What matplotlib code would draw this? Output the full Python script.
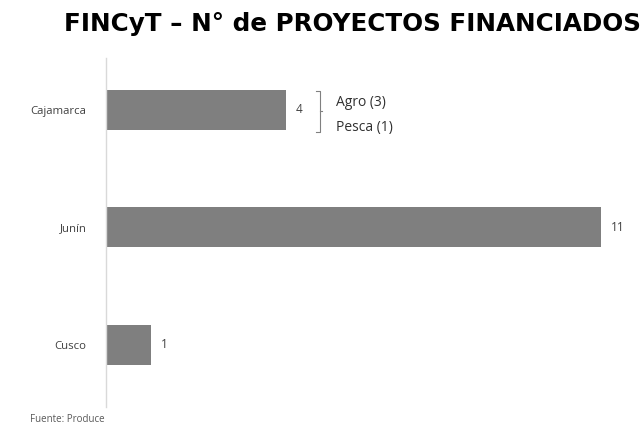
import matplotlib
matplotlib.use("Agg")
import matplotlib.pyplot as plt
import numpy as np

regiones = ["Cajamarca", "Junín", "Cusco"]
proyectos = [4, 11, 1]
detalle_cajamarca = ["Agro (3)", "Pesca (1)"]
titulo = "FINCyT – N° de PROYECTOS FINANCIADOS"
fuente = "Fuente: Produce"

BAR = "#7f7f7f"
TXT = "#404040"

fig = plt.figure(figsize=(6.43, 4.28), dpi=100)
ax = fig.add_axes([106 / 643, 1 - 407 / 428, 1 - 106 / 643, (407 - 58) / 428])

y = np.arange(len(regiones))
ax.barh(y, proyectos, height=0.34, color=BAR)
ax.set_ylim(2.53, -0.44)
ax.set_xlim(0, 537 / 45)

for yi, v in zip(y, proyectos):
    ax.text(v + 0.22, yi, str(v), va="center", ha="left", fontsize=8.5,
            color=TXT, family="Open Sans")

# llave con el detalle de Cajamarca
i = regiones.index("Cajamarca")
xb = proyectos[i] + 0.75
ax.plot([xb - 0.08, xb, xb, xb - 0.08], [i - 0.16, i - 0.16, i + 0.19, i + 0.19],
        color="#808080", lw=0.8)
ax.plot([xb, xb + 0.06], [i + 0.015, i + 0.015], color="#808080", lw=0.8)
ax.text(xb + 0.35, i - 0.06, detalle_cajamarca[0], va="center", ha="left",
        fontsize=10, color="#303030", family="Open Sans")
ax.text(xb + 0.35, i + 0.15, detalle_cajamarca[1], va="center", ha="left",
        fontsize=10, color="#303030", family="Open Sans")

ax.set_yticks(y)
ax.set_yticklabels(regiones, family="Open Sans", fontsize=8.2, color=TXT)
ax.tick_params(axis="y", length=0, pad=14)
ax.set_xticks([])
for s in ["top", "right", "bottom"]:
    ax.spines[s].set_visible(False)
ax.spines["left"].set_color("#d9d9d9")
ax.spines["left"].set_linewidth(1)

fig.text(352 / 643, 1 - 24 / 428, titulo, ha="center", va="center",
         fontsize=17.7, fontweight="bold", color="black", family="DejaVu Sans")
fig.text(30 / 643, 1 - 420 / 428, fuente, ha="left", va="center",
         fontsize=7, color="#595959", family="Open Sans")

fig.savefig("out.png", dpi=100)
